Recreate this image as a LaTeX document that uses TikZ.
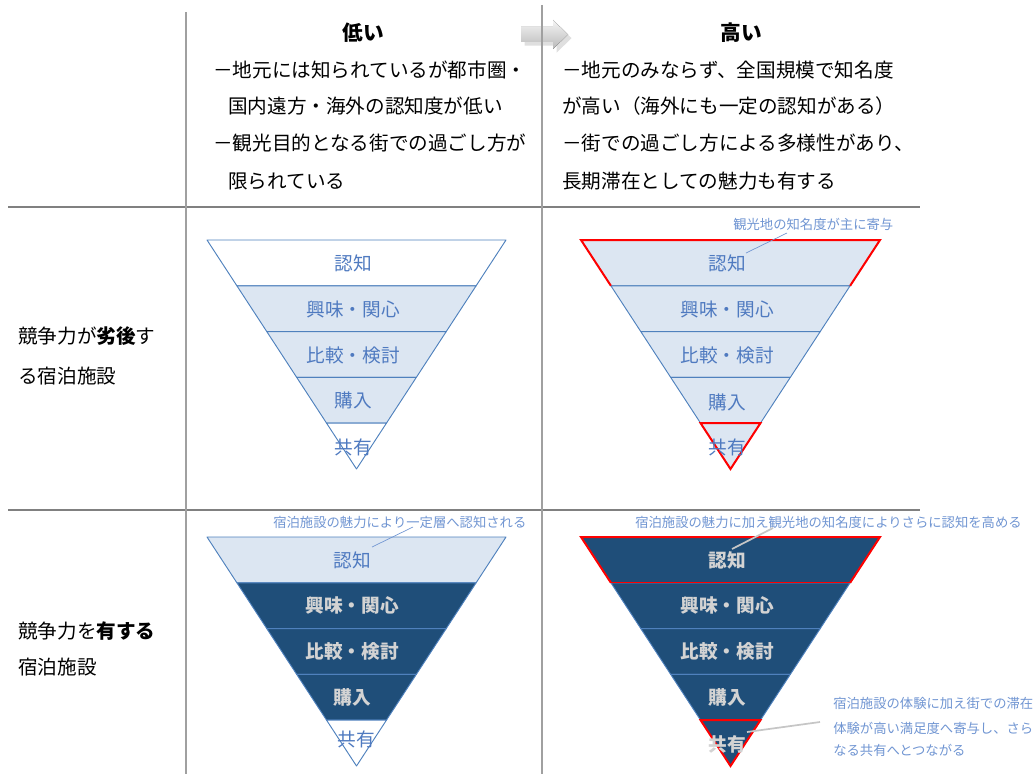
\documentclass[tikz,border=0pt]{standalone}
\usepackage{fontspec}
\setmainfont{Noto Sans CJK JP}
\usetikzlibrary{shadows}
\definecolor{lb}{HTML}{DCE6F2}
\definecolor{navy}{HTML}{1F4E79}
\definecolor{edgeblue}{HTML}{4F81BD}
\definecolor{tblue}{HTML}{4F7AC0}
\definecolor{ablue}{HTML}{7095D2}
\definecolor{lgray}{HTML}{D3D3D3}
\definecolor{gridh}{HTML}{808080}
\definecolor{gridv}{HTML}{A0A0A0}
\newcommand\fband[4]{%
  \pgfmathsetmacro\fya{#2+#3*45.8}%
  \pgfmathsetmacro\fyb{#2+(#3+1)*45.8}%
  \pgfmathsetmacro\fha{149.5*(1-#3/5)}%
  \pgfmathsetmacro\fhb{149.5*(1-(#3+1)/5)}%
  \filldraw[bandst,fill=#4] (#1-\fha,\fya) -- (#1+\fha,\fya) -- (#1+\fhb,\fyb) -- (#1-\fhb,\fyb) -- cycle;}
\begin{document}
\begin{tikzpicture}[x=0.75pt,y=-0.75pt,
  hdr/.style={font=\fontsize{15.5}{18}\selectfont\bfseries, inner sep=0},
  body/.style={font=\fontsize{14.7}{18}\selectfont, anchor=west, inner sep=0},
  lab/.style={font=\fontsize{14}{16}\selectfont, text=tblue, inner sep=0},
  dlab/.style={font=\fontsize{14}{16}\selectfont\bfseries, text=lgray, inner sep=0},
  note/.style={font=\fontsize{10}{12}\selectfont, text=ablue, anchor=west, inner sep=0},
  bandst/.style={draw=edgeblue, line width=0.7pt, line join=round},
  redline/.style={draw=red, line width=1.5pt, line join=miter},
  leadb/.style={draw=ablue, line width=0.5pt},
  leadg/.style={draw=gray!45, line width=1.3pt},
  hline/.style={draw=gridh, line width=2.2pt},
  vline/.style={draw=gridv, line width=1.4pt}]
\useasboundingbox (0,0) rectangle (1034,774);

% header arrow
\fill[top color=gray!8, bottom color=gray!55, drop shadow={opacity=0.25}]
  (521,27) -- (553,27) -- (553,20) -- (568,34.5) -- (553,49) -- (553,42) -- (521,42) -- cycle;

% grid
\draw[hline] (8,207) -- (920,207);
\draw[hline] (8,510) -- (920,510);
\draw[vline] (186,12) -- (186,774);
\draw[vline] (542,5) -- (542,774);

% header texts
\node[hdr] (low) at (363,33) {低い};
\node[hdr] (high) at (741,33) {高い};
\node[body] (l1) at (213,70) {－地元には知られているが都市圏・};
\node[body] (l2) at (228,106) {国内遠方・海外の認知度が低い};
\node[body] (l3) at (213,143) {－観光目的となる街での過ごし方が};
\node[body] (l4) at (228,181) {限られている};
\node[body] (r1) at (562,70) {－地元のみならず、全国規模で知名度};
\node[body] (r2) at (562,106) {が高い（海外にも一定の認知がある）};
\node[body] (r3) at (562,143) {－街での過ごし方による多様性があり、};
\node[body] (r4) at (562,181) {長期滞在としての魅力も有する};

% row labels
\node[body] (a1) at (18,336) {競争力が\textbf{劣後}す};
\node[body] (a2) at (18,376) {る宿泊施設};
\node[body] (b1) at (18,631) {競争力を\textbf{有する}};
\node[body] (b2) at (18,667) {宿泊施設};

% ---------- funnel top-left ----------
\fband{356.5}{240}{0}{white}
\fband{356.5}{240}{1}{lb}
\fband{356.5}{240}{2}{lb}
\fband{356.5}{240}{3}{lb}
\fband{356.5}{240}{4}{white}
\node[lab] (tl0) at (353,263) {認知};
\node[lab] (tl1) at (353,309) {興味・関心};
\node[lab] (tl2) at (353,355) {比較・検討};
\node[lab] (tl3) at (353,400) {購入};
\node[lab] (tl4) at (353,447) {共有};

% ---------- funnel top-right ----------
\fband{730.5}{240}{0}{lb}
\fband{730.5}{240}{1}{lb}
\fband{730.5}{240}{2}{lb}
\fband{730.5}{240}{3}{lb}
\fband{730.5}{240}{4}{lb}
\draw[redline] (610.9,285.8) -- (581,240) -- (880,240) -- (850.1,285.8);
\draw[redline] (700.6,423.2) -- (760.4,423.2) -- (730.5,469) -- cycle;
\node[lab] (tr0) at (727,263) {認知};
\node[lab] (tr1) at (727,309) {興味・関心};
\node[lab] (tr2) at (727,355) {比較・検討};
\node[lab] (tr3) at (727,402) {購入};
\node[lab] (tr4) at (727,447) {共有};
\node[note] (ntr) at (733,224) {観光地の知名度が主に寄与};
\coordinate (ktr) at (787,233);
\coordinate (ktr2) at (746,253);
\draw[leadb] (ktr2) -- (ktr);

% ---------- funnel bottom-left ----------
\fband{356.5}{537}{0}{lb}
\fband{356.5}{537}{1}{navy}
\fband{356.5}{537}{2}{navy}
\fband{356.5}{537}{3}{navy}
\fband{356.5}{537}{4}{white}
\node[lab] (bl0) at (352,560) {認知};
\node[dlab] (bl1) at (352,605) {興味・関心};
\node[dlab] (bl2) at (352,651) {比較・検討};
\node[dlab] (bl3) at (352,697) {購入};
\node[lab] (bl4) at (356,739) {共有};
\node[note] (nbl) at (273,522) {宿泊施設の魅力により一定層へ認知される};
\coordinate (kbl) at (413,527);
\coordinate (kbl2) at (372,547);
\draw[leadb] (kbl2) -- (kbl);

% ---------- funnel bottom-right ----------
\fband{730.5}{537}{0}{navy}
\fband{730.5}{537}{1}{navy}
\fband{730.5}{537}{2}{navy}
\fband{730.5}{537}{3}{navy}
\fband{730.5}{537}{4}{navy}
\draw[redline] (610.9,582.8) -- (581,537) -- (880,537) -- (850.1,582.8);
\draw[draw=red, line width=0.5pt] (610.9,582.8) -- (850.1,582.8);
\draw[redline] (700.6,720.2) -- (760.4,720.2) -- (730.5,766) -- cycle;
\node[dlab] (br0) at (727,560) {認知};
\node[dlab] (br1) at (727,605) {興味・関心};
\node[dlab] (br2) at (727,651) {比較・検討};
\node[dlab] (br3) at (727,697) {購入};
\node[dlab] (br4) at (727,744) {共有};
\node[note] (nbr) at (635,522) {宿泊施設の魅力に加え観光地の知名度によりさらに認知を高める};
\coordinate (kbr) at (773,528);
\coordinate (kbr2) at (732,549);
\draw[leadg] (kbr2) -- (kbr);
\node[note] (nb1) at (833,704) {宿泊施設の体験に加え街での滞在};
\node[note] (nb2) at (833,728) {体験が高い満足度へ寄与し、さら};
\node[note] (nb3) at (833,750) {なる共有へとつながる};
\coordinate (kb4) at (820,722);
\coordinate (kb4b) at (747,732);
\draw[leadg] (kb4b) -- (kb4);
\end{tikzpicture}
\end{document}
